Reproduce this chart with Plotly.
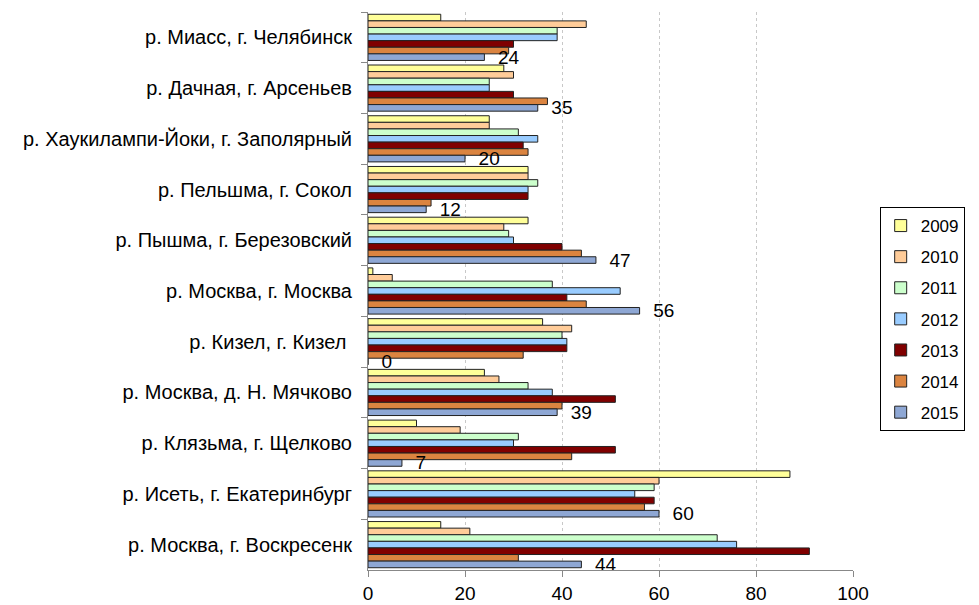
import plotly.graph_objects as go

# Categories, top to bottom as in the chart
stations = [
    "р. Миасс, г. Челябинск",
    "р. Дачная, г. Арсеньев",
    "р. Хаукилампи-Йоки, г. Заполярный",
    "р. Пельшма, г. Сокол",
    "р. Пышма, г. Березовский",
    "р. Москва, г. Москва",
    "р. Кизел, г. Кизел ",
    "р. Москва, д. Н. Мячково",
    "р. Клязьма, г. Щелково",
    "р. Исеть, г. Екатеринбург",
    "р. Москва, г. Воскресенк",
]

years = ["2009", "2010", "2011", "2012", "2013", "2014", "2015"]

v2009 = [15, 28, 25, 33, 33, 1, 36, 24, 10, 87, 15]
v2010 = [45, 30, 25, 33, 28, 5, 42, 27, 19, 60, 21]
v2011 = [39, 25, 31, 35, 29, 38, 40, 33, 31, 59, 72]
v2012 = [39, 25, 35, 33, 30, 52, 41, 38, 30, 55, 76]
v2013 = [30, 30, 32, 33, 40, 41, 41, 51, 51, 59, 91]
v2014 = [29, 37, 33, 13, 44, 45, 32, 40, 42, 57, 31]
v2015 = [24, 35, 20, 12, 47, 56, 0, 39, 7, 60, 44]

series = [v2009, v2010, v2011, v2012, v2013, v2014, v2015]
colors = ["#FFFF99", "#FFCC99", "#CCFFCC", "#99CCFF", "#800000", "#DB8440", "#8EA7D4"]

FONT = "Liberation Sans, Arial, sans-serif"

fig = go.Figure()

for year, vals, col in zip(years, series, colors):
    is_last = year == "2015"
    fig.add_trace(go.Bar(
        y=stations,
        x=vals,
        name=year,
        orientation="h",
        legendgroup=year,
        marker=dict(color=col, line=dict(color="#222222", width=1)),
        texttemplate="\u00a0\u00a0%{x}" if is_last else None,
        textposition="outside" if is_last else "none",
        constraintext="none",
        textfont=dict(size=19, color="black", family=FONT),
        cliponaxis=False,
    ))

# the page body adds an 8px offset, so margins are set to land the plot
# area where it sits in the reference
fig.update_layout(
    barmode="group",
    bargap=0.09,
    bargroupgap=0,
    width=979,
    height=605,
    margin=dict(l=360, r=134, t=4, b=43, autoexpand=False),
    paper_bgcolor="white",
    plot_bgcolor="white",
    font=dict(family=FONT, color="black"),
    legend=dict(
        x=1.055,
        y=0.6505,
        xanchor="left",
        yanchor="top",
        bordercolor="black",
        borderwidth=1,
        bgcolor="white",
        font=dict(size=17, family=FONT),
        tracegroupgap=6,
        itemwidth=30,
        entrywidth=110,
        entrywidthmode="pixels",
    ),
    showlegend=True,
)

fig.update_xaxes(
    range=[0, 100],
    dtick=20,
    showgrid=True,
    gridcolor="#c8c8c8",
    griddash="dot",
    zeroline=False,
    showline=True,
    linecolor="#888888",
    ticks="outside",
    ticklen=6,
    tickcolor="#888888",
    tickfont=dict(size=19, family=FONT),
    automargin=False,
)

fig.update_yaxes(
    autorange="reversed",
    showline=True,
    linecolor="#888888",
    ticks="outside",
    tickson="boundaries",
    ticklen=6,
    tickcolor="#888888",
    tickfont=dict(size=20, family=FONT),
    ticklabelstandoff=11,
    automargin=False,
)

fig.write_html("out.html")
